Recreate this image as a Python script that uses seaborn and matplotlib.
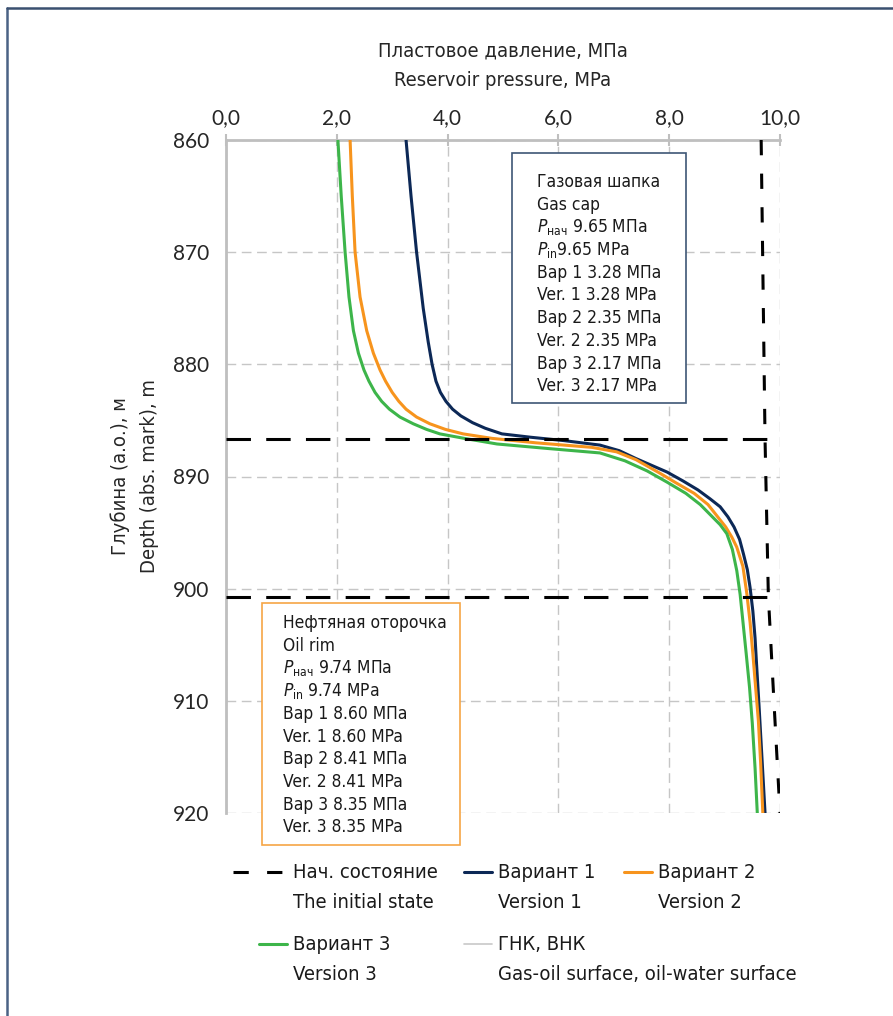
import matplotlib
matplotlib.use('Agg')
import matplotlib.pyplot as plt
from matplotlib.lines import Line2D
from matplotlib.patches import Rectangle
from matplotlib.legend_handler import HandlerLine2D
import seaborn as sns
import pandas as pd

# %% данные
v1_depth = [860, 865, 870, 875, 878, 880, 881.5, 882.5, 883.3, 884, 884.6, 885.2, 885.7, 886.2,
            886.5, 886.8, 887.2, 887.7, 888.4, 889.6, 890.4, 891.2, 892, 892.7, 893.6, 894.5,
            895.6, 896.9, 898.3, 899.9, 902, 904.4, 907, 910.3, 914.7, 920]
v1_p = [3.25, 3.34, 3.44, 3.56, 3.65, 3.72, 3.79, 3.87, 3.97, 4.09, 4.24, 4.45, 4.68, 4.98,
        5.5, 6.1, 6.75, 7.1, 7.4, 7.96, 8.25, 8.52, 8.74, 8.92, 9.06, 9.17,
        9.27, 9.34, 9.41, 9.46, 9.51, 9.55, 9.58, 9.62, 9.67, 9.73]

v2_depth = [860, 865, 870, 874, 877, 879, 880.5, 881.5, 882.5, 883.3, 884, 884.7, 885.3, 885.8,
            886.2, 886.6, 887, 887.4, 887.8, 888.5, 889.7, 890.5, 891.5, 892.5, 893.5, 894.5,
            895.4, 896.3, 898, 900.4, 903, 905.8, 908.8, 911.8, 915.5, 920]
v2_p = [2.24, 2.28, 2.33, 2.42, 2.54, 2.66, 2.78, 2.88, 3.00, 3.12, 3.25, 3.44, 3.68, 3.96,
        4.28, 4.80, 5.6, 6.6, 7.05, 7.4, 7.83, 8.1, 8.45, 8.7, 8.86, 9.02,
        9.13, 9.22, 9.33, 9.40, 9.46, 9.51, 9.56, 9.61, 9.65, 9.69]

v3_depth = [860, 865, 870, 874, 877, 879, 880.5, 881.5, 882.5, 883.3, 884, 884.7, 885.3, 885.8,
            886.2, 886.6, 887.1, 887.5, 887.9, 888.6, 889.5, 890.5, 891.5, 892.5, 893.5, 894.3,
            895.1, 896.5, 898.4, 900.5, 902.9, 905.8, 908.8, 912, 916, 920]
v3_p = [2.02, 2.08, 2.15, 2.22, 2.30, 2.39, 2.49, 2.58, 2.69, 2.81, 2.95, 3.14, 3.38, 3.62,
        3.86, 4.3, 4.89, 5.8, 6.75, 7.2, 7.6, 7.96, 8.3, 8.56, 8.76, 8.92,
        9.04, 9.14, 9.22, 9.28, 9.33, 9.39, 9.45, 9.50, 9.55, 9.59]

init_depth = [860, 886.7, 900.7, 910, 920]
init_p = [9.66, 9.73, 9.79, 9.89, 10.0]

contact_depth = [886.7, 900.7]   # ГНК, ВНК
contact_p_end = 9.87

x_ticks = [0, 2, 4, 6, 8, 10]
x_tick_labels = ['0,0', '2,0', '4,0', '6,0', '8,0', '10,0']
y_ticks = [860, 870, 880, 890, 900, 910, 920]

gas_lines = ['Газовая шапка', 'Gas cap',
             r'$P_{\mathrm{нач}}$ 9.65 МПа', r'$P_{\mathrm{in}}$9.65 MPa',
             'Вар 1 3.28 МПа', 'Ver. 1 3.28 MPa',
             'Вар 2 2.35 МПа', 'Ver. 2 2.35 MPa',
             'Вар 3 2.17 МПа', 'Ver. 3 2.17 MPa']
oil_lines = ['Нефтяная оторочка', 'Oil rim',
             r'$P_{\mathrm{нач}}$ 9.74 МПа', r'$P_{\mathrm{in}}$ 9.74 MPa',
             'Вар 1 8.60 МПа', 'Ver. 1 8.60 MPa',
             'Вар 2 8.41 МПа', 'Ver. 2 8.41 MPa',
             'Вар 3 8.35 МПа', 'Ver. 3 8.35 MPa']

lab_init = 'Нач. состояние\nThe initial state'
lab_v1 = 'Вариант 1\nVersion 1'
lab_v2 = 'Вариант 2\nVersion 2'
lab_v3 = 'Вариант 3\nVersion 3'
lab_gnk = 'ГНК, ВНК\nGas-oil surface, oil-water surface'

c_v1 = '#0c2856'
c_v2 = '#f7941d'
c_v3 = '#3db54a'
c_grid = '#c6c6c6'

# %% стиль
sns.set_style('white')
plt.rcParams['font.family'] = ['DejaVu Sans']
plt.rcParams['font.stretch'] = 'condensed'
plt.rcParams['mathtext.fontset'] = 'dejavusans'
plt.rcParams['text.color'] = '#1a1a1a'

W, H = 893, 1016
fig, ax = plt.subplots(figsize=(W / 100, H / 100), dpi=100)
fig.subplots_adjust(left=226 / W, right=780 / W, top=1 - 140 / H, bottom=1 - 813 / H)

def fx(px):
    return px / W

def fy(py):
    return 1 - py / H

# %% кривые
for dep, p, col, lab in [(v1_depth, v1_p, c_v1, lab_v1),
                         (v2_depth, v2_p, c_v2, lab_v2),
                         (v3_depth, v3_p, c_v3, lab_v3)]:
    df = pd.DataFrame({'p': p, 'depth': dep})
    sns.lineplot(data=df, x='p', y='depth', sort=False, estimator=None,
                 color=col, lw=2.2, ax=ax, label=lab, zorder=3)

df_init = pd.DataFrame({'p': init_p, 'depth': init_depth})
sns.lineplot(data=df_init, x='p', y='depth', sort=False, estimator=None,
             color='black', lw=2.2, ax=ax, label=lab_init, zorder=3)
ax.lines[-1].set_dashes((5, 6))

ax.hlines(contact_depth, 0, contact_p_end, colors='black', lw=2.2,
          linestyles=[(0, (8, 5))], zorder=3)

h_gnk = Line2D([], [], color='#c8c8c8', lw=1.2)

# %% оси
ax.set_xlim(0, 10)
ax.set_ylim(920, 860)
ax.set_xticks(x_ticks)
ax.set_xticklabels(x_tick_labels)
ax.set_yticks(y_ticks)
ax.xaxis.tick_top()
ax.xaxis.set_label_position('top')
ax.grid(True, color=c_grid, lw=1.0, linestyle=(0, (7, 4)))
for s in ['right', 'bottom']:
    ax.spines[s].set_visible(False)
for s in ['top', 'left']:
    ax.spines[s].set_color('#bfbfbf')
    ax.spines[s].set_linewidth(2)
ax.tick_params(axis='x', direction='inout', length=9, width=1.5, color='#bfbfbf',
               labelsize=15, pad=4, labelfontfamily='Lato')
ax.tick_params(axis='y', direction='out', length=7, width=1.5, color='#bfbfbf',
               labelsize=15, pad=5, labelfontfamily='Lato')
ax.set_xlabel('Пластовое давление, МПа\nReservoir pressure, MPa', fontsize=14.5, labelpad=16)
ax.set_ylabel('Глубина (а.о.), м\nDepth (abs. mark), m', fontsize=14.5, labelpad=10)
ax.xaxis.label.set_linespacing(1.72)
ax.yaxis.label.set_linespacing(1.65)

# %% рамки с подписями
ax.add_patch(Rectangle((fx(512), fy(403)), (686 - 512) / W, (403 - 153) / H,
                       transform=fig.transFigure, facecolor='white', edgecolor='#3e5676',
                       lw=1.2, zorder=4, clip_on=False))
ax.add_patch(Rectangle((fx(262), fy(845)), (460 - 262) / W, (845 - 603) / H,
                       transform=fig.transFigure, facecolor='white', edgecolor='#f6a545',
                       lw=1.2, zorder=4, clip_on=False))
for i, s in enumerate(gas_lines):
    fig.text(fx(537), fy(187 + i * 22.7), s, fontsize=12.5, va='baseline', ha='left', zorder=5)
for i, s in enumerate(oil_lines):
    fig.text(fx(283), fy(628 + i * 22.7), s, fontsize=12.5, va='baseline', ha='left', zorder=5)

# %% легенда
class LineHandle(HandlerLine2D):
    def __init__(self, extra=0.0, lift=0.0, **kw):
        super().__init__(**kw)
        self.extra = extra
        self.lift = lift

    def create_artists(self, legend, orig_handle, xdescent, ydescent, width, height, fontsize, trans):
        e = self.extra * fontsize
        l = self.lift * fontsize
        return super().create_artists(legend, orig_handle, xdescent + e, ydescent - 2 * l,
                                      width + e, height, fontsize, trans)

handles, labels = ax.get_legend_handles_labels()
hmap = dict(zip(labels, handles))
ax.get_legend().remove()

entries = [(hmap[lab_init], lab_init, 259, 863, 1.3),
           (hmap[lab_v1], lab_v1, 464, 863, 0),
           (hmap[lab_v2], lab_v2, 624, 863, 0),
           (hmap[lab_v3], lab_v3, 259, 935, 0),
           (h_gnk, lab_gnk, 464, 935, 0)]
for h, lab, hx, ty, extra in entries:
    leg = fig.legend(handles=[h], labels=[lab], loc='upper left',
                     bbox_to_anchor=(fx(hx), fy(ty)), frameon=False, fontsize=14.5,
                     borderpad=0, borderaxespad=0, handlelength=1.4, handletextpad=0.3,
                     handler_map={h: LineHandle(extra=extra, lift=0.8)})
    for t in leg.get_texts():
        t.set_linespacing(1.72)

# рамка рисунка
fig.add_artist(Line2D([fx(7), fx(7)], [0, fy(8)], transform=fig.transFigure,
                      color='#4a6285', lw=1.8))
fig.add_artist(Line2D([fx(7), 1], [fy(8), fy(8)], transform=fig.transFigure,
                      color='#3a5070', lw=1.8))

fig.savefig('out.png', dpi=100)
